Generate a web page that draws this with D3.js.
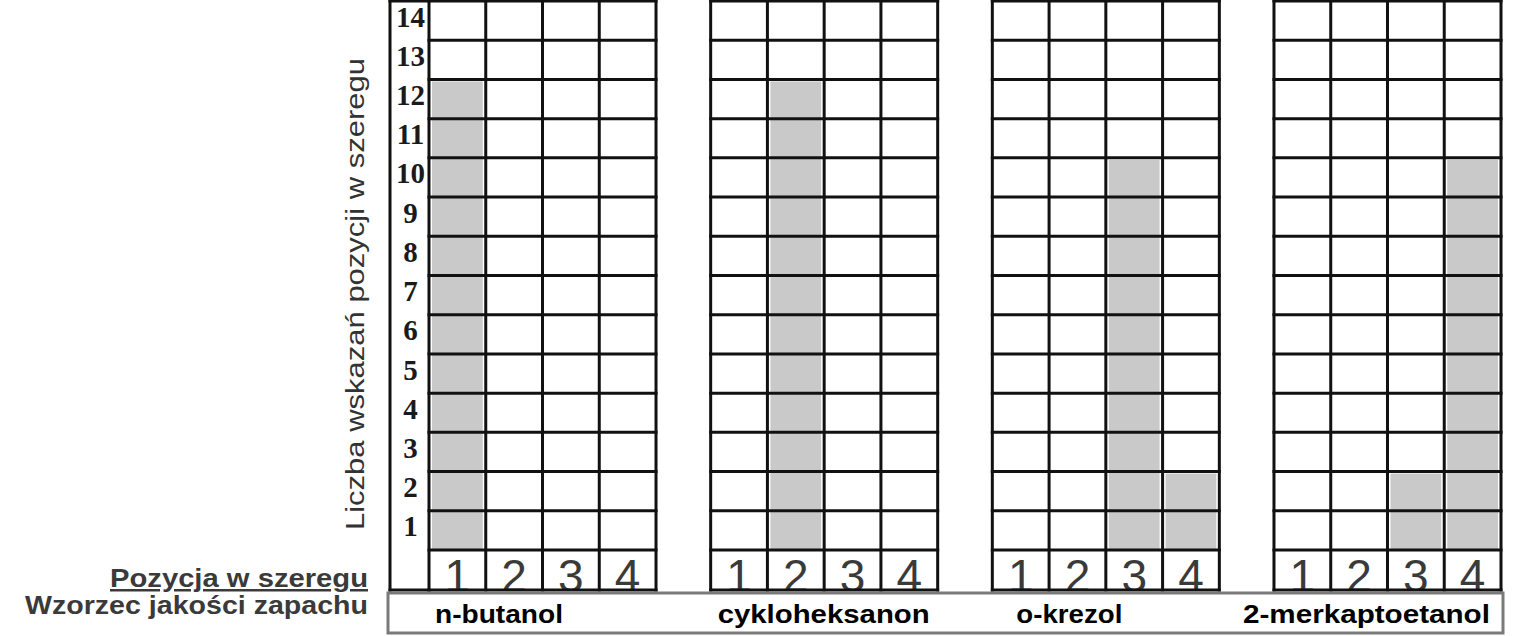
<!DOCTYPE html>
<html><head><meta charset="utf-8">
<script src="https://cdn.jsdelivr.net/npm/d3@7/dist/d3.min.js"></script>
<style>html,body{margin:0;padding:0;background:#fff;overflow:hidden}</style>
</head><body><svg id="chart" width="1531" height="636"></svg>
<script>
// ---- data ----
const standards = ["n-butanol", "cykloheksanon", "o-krezol", "2-merkaptoetanol"];
const positions = [1, 2, 3, 4];
const countTicks = [1, 2, 3, 4, 5, 6, 7, 8, 9, 10, 11, 12, 13, 14];
const nButanol = [12, 0, 0, 0];
const cykloheksanon = [0, 12, 0, 0];
const oKrezol = [0, 0, 10, 2];
const merkaptoetanol = [0, 0, 2, 10];
const seriesByStandard = [nButanol, cykloheksanon, oKrezol, merkaptoetanol];
const yTitle = "Liczba wskazań pozycji w szeregu";
const xTitle = "Pozycja w szeregu";
const boxTitle = "Wzorzec jakości zapachu";

// ---- layout ----
const L = {
  gridTop: 1, gridBottom: 550, posBottom: 590,
  gridLeft: 429, gridRight: 1501, labelColLeft: 390,
  boxX0: 388, boxX1: 1503, boxY0: 593, boxY1: 633,
  boxLabelOffset: [6, 7, 24, -31], boxLabelWidth: [128, 212, 106, 247]
};
const svg = d3.select("#chart");
svg.append("rect").attr("width", 1531).attr("height", 636).attr("fill", "#fff");

const panelScale = d3.scaleBand().domain(standards).range([L.gridLeft, L.gridRight]).paddingInner(0.194);
const y = d3.scaleLinear().domain([0, countTicks.length]).range([L.gridBottom, L.gridTop]);

const lineColor = "#111", lw = 3;

standards.forEach((name, pi) => {
  const x0 = panelScale(name);
  const x = d3.scaleBand().domain(positions).range([x0, x0 + panelScale.bandwidth()]);
  const g = svg.append("g");
  const vals = seriesByStandard[pi];
  // bars (shaded cells)
  g.selectAll("rect.bar").data(positions.map((p, i) => ({p, v: vals[i]})).filter(d => d.v > 0))
    .enter().append("rect").attr("class", "bar")
    .attr("x", d => x(d.p) + 3).attr("width", x.bandwidth() - 6)
    .attr("y", d => y(d.v) + 2).attr("height", d => y(0) - y(d.v) - 3)
    .attr("fill", "#c9c9c9");
  // horizontal lines
  g.selectAll("line.h").data(d3.range(0, countTicks.length + 1)).enter().append("line")
    .attr("x1", x0).attr("x2", x0 + panelScale.bandwidth())
    .attr("y1", d => y(d)).attr("y2", d => y(d))
    .attr("stroke", lineColor).attr("stroke-width", lw).attr("stroke-linecap", "square");
  g.append("line").attr("x1", x0).attr("x2", x0 + panelScale.bandwidth())
    .attr("y1", L.posBottom).attr("y2", L.posBottom)
    .attr("stroke", lineColor).attr("stroke-width", lw).attr("stroke-linecap", "square");
  // vertical lines
  const vx = positions.map(p => x(p)).concat([x0 + panelScale.bandwidth()]);
  g.selectAll("line.v").data(vx).enter().append("line")
    .attr("x1", d => d).attr("x2", d => d).attr("y1", L.gridTop).attr("y2", L.posBottom)
    .attr("stroke", lineColor).attr("stroke-width", lw).attr("stroke-linecap", "square");
  // position digits
  const clipId = "clip" + pi;
  svg.append("clipPath").attr("id", clipId).append("rect")
    .attr("x", x0).attr("y", L.gridBottom + 1).attr("width", panelScale.bandwidth()).attr("height", L.posBottom - L.gridBottom - 2);
  g.insert("g", ":first-child").attr("clip-path", `url(#${clipId})`)
    .selectAll("text").data(positions).enter().append("text")
    .attr("x", d => x(d) + x.bandwidth() / 2).attr("y", L.posBottom + 2)
    .attr("text-anchor", "middle").attr("font-family", "Liberation Sans, Arial, sans-serif")
    .attr("font-size", 46).attr("fill", "#3a3a3a").text(d => d);
  // box label
  svg.append("text").attr("x", x0 + L.boxLabelOffset[pi]).attr("y", 623)
    .attr("font-family", "Liberation Sans, Arial, sans-serif").attr("font-weight", "bold")
    .attr("font-size", 26).attr("fill", "#000")
    .attr("textLength", L.boxLabelWidth[pi]).attr("lengthAdjust", "spacingAndGlyphs")
    .text(name);
});

// label column with count ticks (panel 1)
const c0 = panelScale(standards[0]);
svg.append("line").attr("x1", L.labelColLeft).attr("x2", c0).attr("y1", L.gridTop).attr("y2", L.gridTop)
  .attr("stroke", lineColor).attr("stroke-width", lw).attr("stroke-linecap", "square");
svg.append("line").attr("x1", L.labelColLeft).attr("x2", c0).attr("y1", L.posBottom).attr("y2", L.posBottom)
  .attr("stroke", lineColor).attr("stroke-width", lw).attr("stroke-linecap", "square");
svg.append("line").attr("x1", L.labelColLeft).attr("x2", L.labelColLeft).attr("y1", L.gridTop).attr("y2", L.posBottom)
  .attr("stroke", lineColor).attr("stroke-width", lw).attr("stroke-linecap", "square");
svg.selectAll("text.tick").data(countTicks).enter().append("text").attr("class", "tick")
  .attr("x", (L.labelColLeft + c0) / 2 + 1).attr("y", d => (y(d) + y(d - 1)) / 2 + 6)
  .attr("text-anchor", "middle").attr("font-family", "Liberation Serif, Times New Roman, serif")
  .attr("font-weight", "bold").attr("font-size", 29).attr("fill", "#1a1a1a").text(d => d);

// bottom box
svg.append("rect").attr("x", L.boxX0).attr("y", L.boxY0).attr("width", L.boxX1 - L.boxX0).attr("height", L.boxY1 - L.boxY0)
  .attr("fill", "none").attr("stroke", "#7a7a7a").attr("stroke-width", 3);

// titles
svg.append("text").attr("transform", "translate(364,294) rotate(-90)")
  .attr("text-anchor", "middle").attr("font-family", "Liberation Sans, Arial, sans-serif")
  .attr("font-size", 26).attr("fill", "#333")
  .attr("textLength", 472).attr("lengthAdjust", "spacingAndGlyphs").text(yTitle);
svg.append("text").attr("x", 110).attr("y", 587)
  .attr("font-family", "Liberation Sans, Arial, sans-serif").attr("font-weight", "bold")
  .attr("font-size", 25).attr("fill", "#3a3a3a").attr("text-decoration", "underline")
  .attr("textLength", 258).attr("lengthAdjust", "spacingAndGlyphs").text(xTitle);
svg.append("text").attr("x", 25).attr("y", 614)
  .attr("font-family", "Liberation Sans, Arial, sans-serif").attr("font-weight", "bold")
  .attr("font-size", 25).attr("fill", "#3a3a3a")
  .attr("textLength", 343).attr("lengthAdjust", "spacingAndGlyphs").text(boxTitle);
</script></body></html>
